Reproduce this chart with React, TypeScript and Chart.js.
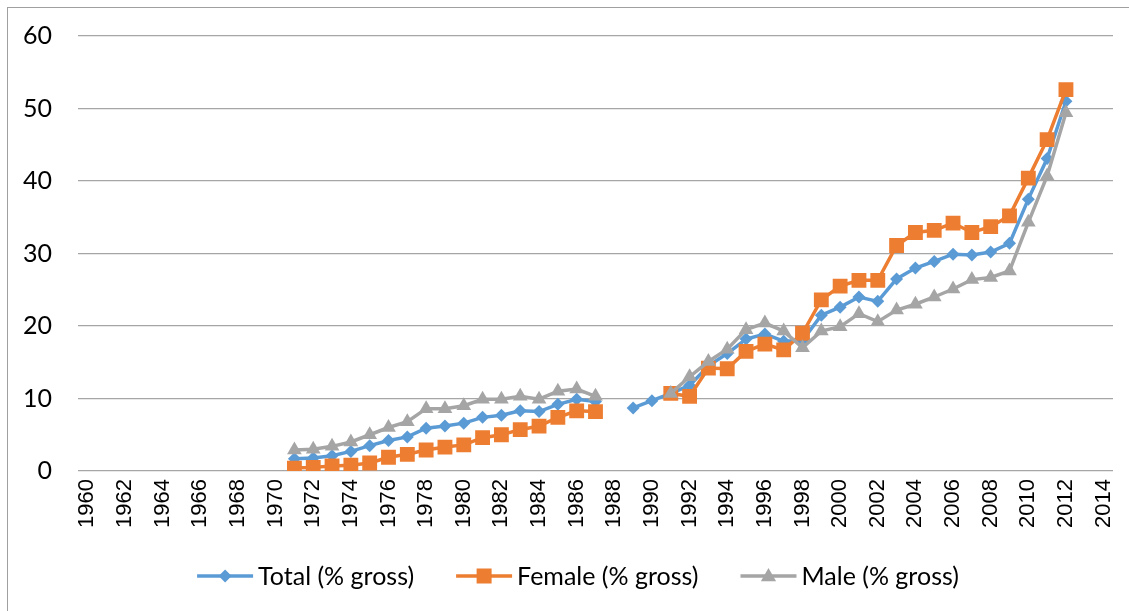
import React, { useEffect, useRef } from "react";
import { Chart, registerables } from "chart.js";

Chart.register(...registerables);

const years: string[] = [
  "1960", "1961", "1962", "1963", "1964", "1965", "1966", "1967", "1968", "1969",
  "1970", "1971", "1972", "1973", "1974", "1975", "1976", "1977", "1978", "1979",
  "1980", "1981", "1982", "1983", "1984", "1985", "1986", "1987", "1988", "1989",
  "1990", "1991", "1992", "1993", "1994", "1995", "1996", "1997", "1998", "1999",
  "2000", "2001", "2002", "2003", "2004", "2005", "2006", "2007", "2008", "2009",
  "2010", "2011", "2012", "2013", "2014",
];

const yTicks: number[] = [0, 10, 20, 30, 40, 50, 60];

// 1960–1970: no data
const totalGross: (number | null)[] = [
  null, null, null, null, null, null, null, null, null, null, null,
  1.7, 1.8, 2.1, 2.7, 3.5, 4.2, 4.7, 5.9, 6.2, 6.6, 7.4, 7.7, 8.3, 8.2, 9.2, 9.9, 9.6,
  null,
  8.7, 9.7, 10.7, 11.8, 14.5, 16.2, 18.2, 18.9, 17.9, 18.0,
  21.5, 22.6, 24.0, 23.4, 26.5, 28.0, 28.9, 29.9, 29.8, 30.2, 31.4, 37.5, 43.1, 51.0,
  null, null,
];

const femaleGross: (number | null)[] = [
  null, null, null, null, null, null, null, null, null, null, null,
  0.4, 0.5, 0.7, 0.8, 1.1, 1.9, 2.3, 2.9, 3.3, 3.6, 4.6, 5.0, 5.7, 6.2, 7.4, 8.3, 8.2,
  null, null, null,
  10.7, 10.3, 14.2, 14.1, 16.5, 17.5, 16.7, 19.0,
  23.6, 25.5, 26.3, 26.3, 31.1, 32.9, 33.2, 34.2, 32.9, 33.7, 35.2, 40.4, 45.7, 52.6,
  null, null,
];

const maleGross: (number | null)[] = [
  null, null, null, null, null, null, null, null, null, null, null,
  2.9, 3.0, 3.4, 4.0, 5.0, 6.0, 6.8, 8.6, 8.6, 9.0, 9.9, 9.9, 10.3, 9.9, 11.0, 11.3, 10.3,
  null, null, null,
  10.7, 13.0, 15.1, 16.8, 19.5, 20.4, 19.3, 17.0,
  19.3, 19.9, 21.7, 20.6, 22.2, 23.0, 24.0, 25.1, 26.4, 26.7, 27.6, 34.3, 40.7, 49.4,
  null, null,
];

const seriesLabels: string[] = ["Total (% gross)", "Female (% gross)", "Male (% gross)"];
const seriesColors: string[] = ["#5B9BD5", "#ED7D31", "#A5A5A5"];

const LEGEND_FONT = "25px Lato";
const TICK_FONT_FAMILY = "Lato";

function drawMarker(ctx: CanvasRenderingContext2D, kind: string, x: number, y: number, color: string) {
  ctx.fillStyle = color;
  ctx.beginPath();
  if (kind === "rectRot") {
    const r = 6.5;
    ctx.moveTo(x, y - r);
    ctx.lineTo(x + r, y);
    ctx.lineTo(x, y + r);
    ctx.lineTo(x - r, y);
  } else if (kind === "rect") {
    const h = 7.5;
    ctx.rect(x - h, y - h, 2 * h, 2 * h);
  } else {
    const r = 8;
    ctx.moveTo(x, y - r);
    ctx.lineTo(x + r * 0.95, y + r * 0.65);
    ctx.lineTo(x - r * 0.95, y + r * 0.65);
  }
  ctx.closePath();
  ctx.fill();
}

const legendPlugin = {
  id: "lineMarkerLegend",
  afterDraw(chart: any) {
    const ctx: CanvasRenderingContext2D = chart.ctx;
    const datasets = chart.data.datasets;
    const order = [0, 1, 2];
    const lineLen = 56;
    const gap = 5;
    const spacing = 42;
    const centerX = 578;
    const y = 576;
    ctx.save();
    ctx.font = LEGEND_FONT;
    const widths = order.map((i) => ctx.measureText(datasets[i].label).width);
    let total = spacing * (order.length - 1);
    widths.forEach((w) => (total += lineLen + gap + w));
    let x = centerX - total / 2;
    order.forEach((i, k) => {
      const ds = datasets[i];
      ctx.strokeStyle = ds.borderColor;
      ctx.lineWidth = 3.5;
      ctx.beginPath();
      ctx.moveTo(x, y);
      ctx.lineTo(x + lineLen, y);
      ctx.stroke();
      drawMarker(ctx, ds.pointStyle, x + lineLen / 2, y, ds.borderColor);
      ctx.fillStyle = "#000000";
      ctx.textBaseline = "middle";
      ctx.textAlign = "left";
      ctx.fillText(ds.label, x + lineLen + gap, y + 1);
      x += lineLen + gap + widths[k] + spacing;
    });
    ctx.restore();
  },
};

export default function App() {
  const canvasRef = useRef<HTMLCanvasElement | null>(null);

  useEffect(() => {
    if (!canvasRef.current) return;
    const chart = new Chart(canvasRef.current, {
      type: "line",
      data: {
        labels: years,
        datasets: [
          {
            label: seriesLabels[0],
            data: totalGross,
            borderColor: seriesColors[0],
            backgroundColor: seriesColors[0],
            pointStyle: "rectRot",
            pointRadius: 6.5,
            order: 3,
          },
          {
            label: seriesLabels[1],
            data: femaleGross,
            borderColor: seriesColors[1],
            backgroundColor: seriesColors[1],
            pointStyle: "rect",
            pointRadius: 10.5,
            order: 2,
          },
          {
            label: seriesLabels[2],
            data: maleGross,
            borderColor: seriesColors[2],
            backgroundColor: seriesColors[2],
            pointStyle: "triangle",
            pointRadius: 8.5,
            order: 1,
          },
        ] as any,
      },
      options: {
        animation: false,
        responsive: false,
        maintainAspectRatio: false,
        spanGaps: false,
        elements: {
          line: { borderWidth: 3.5, tension: 0 },
          point: { borderWidth: 0, hoverRadius: 0 },
        },
        layout: { padding: { top: 36, right: 16, left: 0, bottom: 0 } },
        plugins: {
          legend: { display: false },
          tooltip: { enabled: false },
          title: { display: false },
        },
        scales: {
          x: {
            type: "category",
            offset: true,
            grid: { display: false, drawTicks: false },
            border: { display: false },
            ticks: {
              autoSkip: false,
              maxRotation: 90,
              minRotation: 90,
              padding: 8,
              color: "#000000",
              font: { family: "Liberation Sans", size: 22 },
              callback: (_v: any, i: number) => (i % 2 === 0 ? years[i] : ""),
            },
            afterFit: (scale: any) => {
              scale.height = 140;
              scale.paddingLeft = 0;
              scale.paddingRight = 0;
            },
          },
          y: {
            min: 0,
            max: 60,
            afterBuildTicks: (scale: any) => {
              scale.ticks = yTicks.map((v) => ({ value: v }));
            },
            grid: { color: "#A6A6A6", lineWidth: 1.2, drawTicks: false },
            border: { display: false },
            ticks: {
              padding: 26,
              color: "#000000",
              font: { family: TICK_FONT_FAMILY, size: 25 },
            },
            afterFit: (scale: any) => {
              scale.width = 78;
              scale.paddingTop = 0;
              scale.paddingBottom = 0;
            },
          },
        },
      } as any,
      plugins: [legendPlugin],
    });
    return () => chart.destroy();
  }, []);

  return (
    <div
      style={{
        position: "absolute",
        left: 0,
        top: 0,
        width: 1129,
        height: 611,
        overflow: "hidden",
        background: "#ffffff",
      }}
    >
      <div
        style={{
          position: "absolute",
          left: 7,
          top: 7,
          width: 1300,
          height: 800,
          borderLeft: "1px solid #A0A0A0",
          borderTop: "1px solid #A0A0A0",
        }}
      />
      <canvas
        ref={canvasRef}
        width={1129}
        height={611}
        style={{ position: "absolute", left: 0, top: 0, width: 1129, height: 611 }}
      />
    </div>
  );
}
